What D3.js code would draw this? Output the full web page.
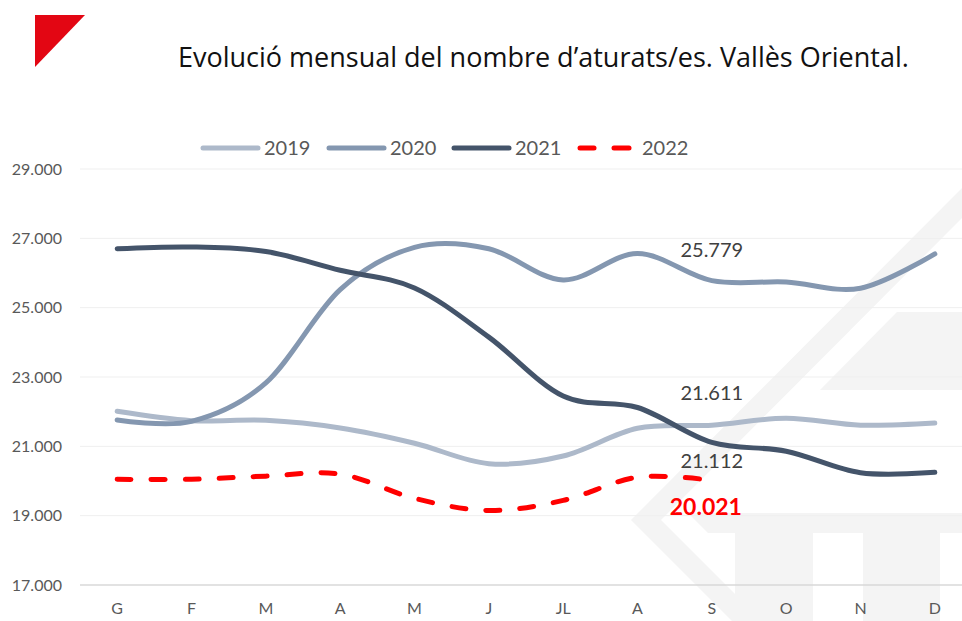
<!DOCTYPE html>
<html lang="ca">
    <head>
        <meta charset="utf-8">
        <title>Evolució mensual del nombre d'aturats/es</title>
        <script src="https://d3js.org/d3.v7.min.js"></script>
        <style>
            body { margin: 0; background: #fff; }
            text { font-family: Lato, "Liberation Sans", sans-serif; }
        </style>
    </head>
    <body>
    <div id="mainDiv"></div>

        <script type="text/javascript">
            // dades llegides del gràfic
            const months = ['G', 'F', 'M', 'A', 'M', 'J', 'JL', 'A', 'S', 'O', 'N', 'D']
            const yTicks = [17000, 19000, 21000, 23000, 25000, 27000, 29000]
            const years = ['2019', '2020', '2021', '2022']
            const v2019 = [22010, 21740, 21750, 21530, 21090, 20500, 20720, 21520, 21611, 21810, 21610, 21670]
            const v2020 = [21760, 21720, 22830, 25520, 26740, 26700, 25800, 26560, 25779, 25740, 25560, 26550]
            const v2021 = [26700, 26750, 26620, 26080, 25570, 24150, 22450, 22120, 21112, 20860, 20240, 20250]
            const v2022 = [20050, 20050, 20140, 20200, 19500, 19150, 19440, 20110, 20021]
            const colors = ['#adb9ca', '#8497b0', '#44546a', '#ff0000']

            const width = 962
            const height = 621

            const plot = { left: 80, right: 972, top: 169, bottom: 585 }

            const svg = d3.select('#mainDiv').append('svg')
                .attr('width', width)
                .attr('height', height)

            // marca d'aigua de fons
            const wm = svg.append('g').attr('fill', '#f4f4f4')
            wm.append('polygon').attr('points', '962,188 631,520 732,621 762,621 661,520 962,218')
            wm.append('polygon').attr('points', '820,390 897,312 962,312 962,390')
            wm.append('polygon').attr('points', '688,513 962,513 962,533 708,533')
            wm.append('rect').attr('x', 735).attr('y', 533).attr('width', 78).attr('height', 88)
            wm.append('rect').attr('x', 863).attr('y', 533).attr('width', 77).attr('height', 88)

            const xScale = d3.scaleBand()
                .domain(d3.range(months.length))
                .range([plot.left, plot.right])
                .padding(0)
            const xc = (i) => xScale(i) + xScale.bandwidth() / 2

            const yScale = d3.scaleLinear()
                .domain([17000, 29000])
                .range([plot.bottom, plot.top])

            // línies de la graella
            svg.append('g')
                .selectAll('line')
                .data(yTicks)
                .join('line')
                .attr('x1', plot.left)
                .attr('x2', width)
                .attr('y1', d => yScale(d))
                .attr('y2', d => yScale(d))
                .attr('stroke', d => d === 17000 ? '#d9d9d9' : '#efefef')
                .attr('stroke-width', d => d === 17000 ? 1.5 : 1)

            const fmt = d3.format(',')
            const dotFmt = (d) => fmt(d).replace(/,/g, '.')

            const yAxis = d3.axisLeft(yScale)
                .tickValues(yTicks)
                .tickSize(0)
                .tickPadding(18)
                .tickFormat(dotFmt)
            svg.append('g')
                .attr('transform', `translate(${plot.left},0)`)
                .call(yAxis)
                .call(g => g.select('.domain').remove())
                .call(g => g.selectAll('text')
                    .attr('fill', '#595959')
                    .style('font-size', '16px')
                    .style('font-family', 'Lato, sans-serif'))

            const xAxis = d3.axisBottom(xScale)
                .tickSize(0)
                .tickPadding(18)
                .tickFormat(i => months[i])
            svg.append('g')
                .attr('transform', `translate(0,${plot.bottom})`)
                .call(xAxis)
                .call(g => g.select('.domain').remove())
                .call(g => g.selectAll('text')
                    .attr('fill', '#595959')
                    .style('font-size', '16px')
                    .style('font-family', 'Lato, sans-serif'))

            const line = d3.line()
                .x((d, i) => xc(i))
                .y(d => yScale(d))
                .curve(d3.curveCardinal.tension(0))

            const series = [v2019, v2020, v2021, v2022]
            series.forEach((s, k) => {
                svg.append('path')
                    .datum(s)
                    .attr('d', line)
                    .attr('fill', 'none')
                    .attr('stroke', colors[k])
                    .attr('stroke-width', 5)
                    .attr('stroke-linecap', 'round')
                    .attr('stroke-linejoin', 'round')
                    .attr('stroke-dasharray', k === 3 ? '14,20' : null)
            })

            // etiquetes del mes de setembre
            const si = 8
            const labels = [
                { v: v2020[si], dy: -24, dx: 0, color: '#404040', bold: false, size: 20 },
                { v: v2019[si], dy: -25, dx: 0, color: '#404040', bold: false, size: 20 },
                { v: v2021[si], dy: 26, dx: 0, color: '#404040', bold: false, size: 20 },
                { v: v2022[si], dy: 35, dx: -6, color: '#ff0000', bold: true, size: 23 }
            ]
            svg.append('g')
                .selectAll('text')
                .data(labels)
                .join('text')
                .attr('x', d => xc(si) + d.dx)
                .attr('y', d => yScale(d.v) + d.dy)
                .attr('text-anchor', 'middle')
                .attr('fill', d => d.color)
                .style('font-size', d => d.size + 'px')
                .style('font-weight', d => d.bold ? 'bold' : 'normal')
                .text(d => dotFmt(d.v))

            // llegenda
            const legendX = [201, 327, 452, 578]
            const legend = svg.append('g')
            years.forEach((y, k) => {
                const g = legend.append('g').attr('transform', `translate(${legendX[k]},148)`)
                if (k === 3) {
                    g.append('line').attr('x1', 2).attr('x2', 16)
                        .attr('stroke', colors[k]).attr('stroke-width', 5).attr('stroke-linecap', 'round')
                    g.append('line').attr('x1', 36).attr('x2', 51)
                        .attr('stroke', colors[k]).attr('stroke-width', 5).attr('stroke-linecap', 'round')
                    g.append('text').attr('x', 64).attr('y', 7).attr('fill', '#595959')
                        .style('font-size', '20px').text(y)
                } else {
                    g.append('line').attr('x1', 2).attr('x2', 57)
                        .attr('stroke', colors[k]).attr('stroke-width', 5).attr('stroke-linecap', 'round')
                    g.append('text').attr('x', 63).attr('y', 7).attr('fill', '#595959')
                        .style('font-size', '20px').text(y)
                }
            })

            // títol i logotip
            svg.append('text')
                .attr('x', 178)
                .attr('y', 67)
                .attr('fill', '#111')
                .style('font-family', '"Open Sans", sans-serif')
                .style('font-size', '27px')
                .text('Evolució mensual del nombre d’aturats/es. Vallès Oriental.')

            svg.append('polygon')
                .attr('points', '35,15 85,15 35,67')
                .attr('fill', '#e30613')
        </script>
    </body>
</html>
